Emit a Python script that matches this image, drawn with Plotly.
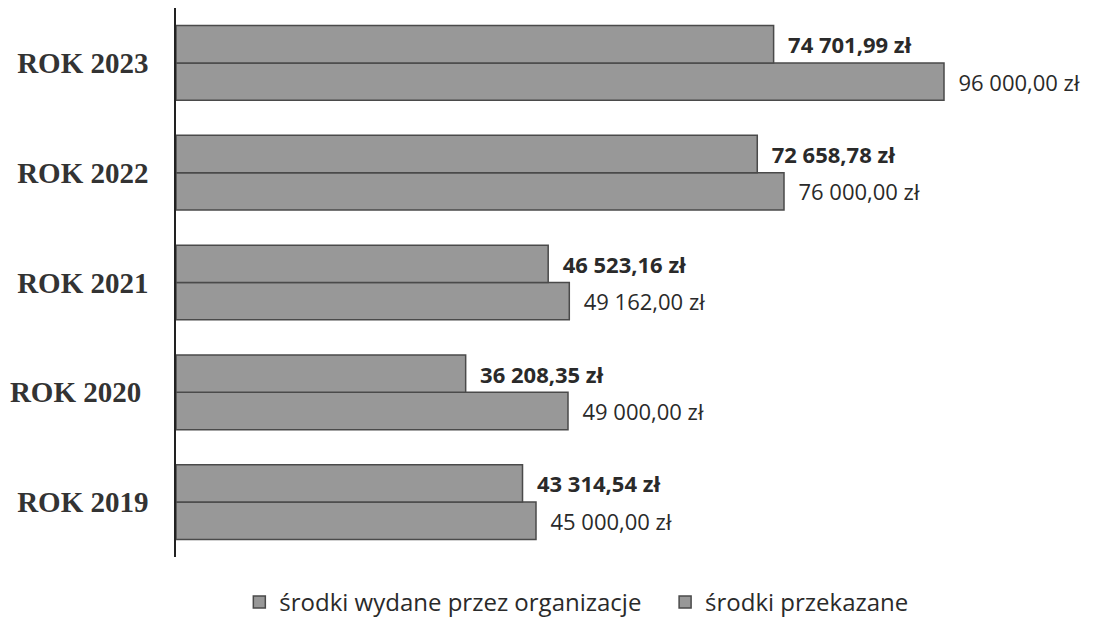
import plotly.graph_objects as go

categories = ["ROK 2019", "ROK 2020", "ROK 2021", "ROK 2022", "ROK 2023"]
tick_labels = ["ROK 2019", "ROK 2020\u00a0", "ROK 2021", "ROK 2022", "ROK 2023"]
wydane = [43314.54, 36208.35, 46523.16, 72658.78, 74701.99]
przekazane = [45000.00, 49000.00, 49162.00, 76000.00, 96000.00]

def fmt(v):
    s = f"{v:,.2f}"
    s = s.replace(",", " ").replace(".", ",")
    return s + " zł"

pad = "\u00a0\u00a0"
bar_color = "#989898"
edge = "#4a4a4a"

fig = go.Figure()
fig.add_trace(go.Bar(
    y=categories, x=przekazane, orientation="h", name="środki przekazane",
    marker=dict(color=bar_color, line=dict(color=edge, width=1.5)),
    text=[pad + fmt(v) for v in przekazane], textposition="outside", constraintext="none",
    textfont=dict(family="Open Sans", size=22, color="#2a2a2a"), cliponaxis=False,
))
fig.add_trace(go.Bar(
    y=categories, x=wydane, orientation="h", name="środki wydane przez organizacje\u00a0\u00a0\u00a0",
    marker=dict(color=bar_color, line=dict(color=edge, width=1.5)),
    text=[pad + "<b>" + fmt(v) + "</b>" for v in wydane], textposition="outside", constraintext="none",
    textfont=dict(family="Open Sans", size=22, color="#2a2a2a"), cliponaxis=False,
))

fig.update_layout(
    width=1085, height=617,
    margin=dict(l=168, r=3, t=0, b=66),
    paper_bgcolor="white", plot_bgcolor="white",
    barmode="group", bargap=0.32, bargroupgap=0.0,
    showlegend=True,
    legend=dict(orientation="h", traceorder="reversed", x=0.438, xanchor="center",
                y=-0.042, yanchor="top", font=dict(family="Open Sans", size=24, color="#2a2a2a"),
                itemwidth=30),
    xaxis=dict(range=[0, 114250], visible=False, showgrid=False, zeroline=False),
    yaxis=dict(showline=True, linecolor="#222", linewidth=1.5, ticks="", showgrid=False,
               automargin=False, tickmode="array", tickvals=categories,
               ticktext=["<b>" + t + "</b>" for t in tick_labels],
               tickfont=dict(family="Liberation Serif", size=29, color="#333"),
               ticklabelstandoff=20),
    font=dict(family="Open Sans"),
)

fig.write_html("out.html")
